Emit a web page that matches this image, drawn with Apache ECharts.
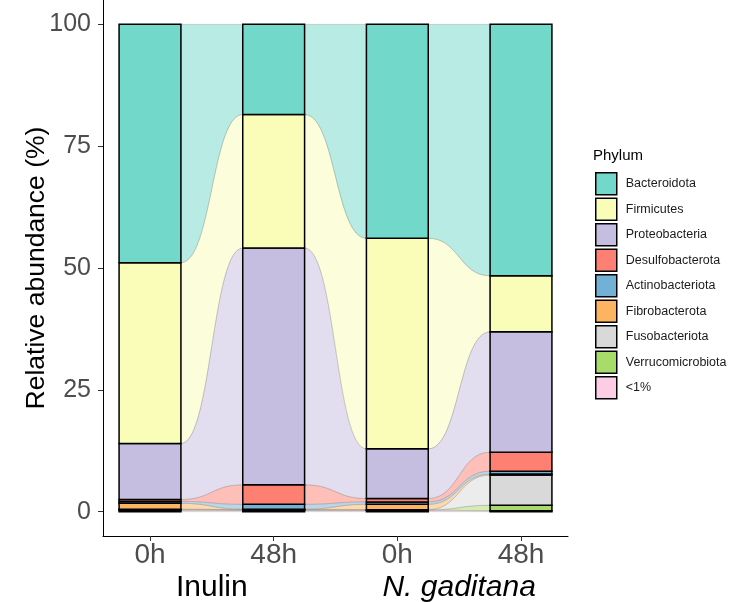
<!DOCTYPE html>
<html>
<head>
<meta charset="utf-8">
<script src="https://cdn.jsdelivr.net/npm/echarts@6/dist/echarts.min.js"></script>
<style>
html, body { margin: 0; padding: 0; background: #fff; }
#chart { width: 729px; height: 602px; }
</style>
</head>
<body>
<div id="chart"></div>
<script>
// legend order (top of the stack first)
const phyla = ['Bacteroidota', 'Firmicutes', 'Proteobacteria', 'Desulfobacterota',
    'Actinobacteriota', 'Fibrobacterota', 'Fusobacteriota', 'Verrucomicrobiota', '<1%'];
const sampleLabels = ['0h', '48h', '0h', '48h'];
const samplePositions = [0, 1, 2, 3];
const groupLabels = ['Inulin', 'N. gaditana'];
const groupItalic = [false, true];
const groupPositions = [0.5, 2.5];
const yTicks = [0, 25, 50, 75, 100];

// relative abundance (%) per sample: Inulin 0h, Inulin 48h, N. gaditana 0h, N. gaditana 48h
const bacteroidota = [48.9, 18.5, 43.9, 51.6];
const firmicutes = [37.1, 27.4, 43.2, 11.5];
const proteobacteria = [11.5, 48.6, 10.2, 24.7];
const desulfobacterota = [0.4, 4.0, 0.7, 3.9];
const actinobacteriota = [0.4, 1.0, 0.5, 0.6];
const fibrobacterota = [1.2, 0.1, 1.1, 0.2];
const fusobacteriota = [0.1, 0.05, 0.05, 6.2];
const verrucomicrobiota = [0.1, 0.05, 0.05, 1.1];
const lessThan1 = [0.3, 0.3, 0.3, 0.2];

const valuesByName = {
    'Bacteroidota': bacteroidota,
    'Firmicutes': firmicutes,
    'Proteobacteria': proteobacteria,
    'Desulfobacterota': desulfobacterota,
    'Actinobacteriota': actinobacteriota,
    'Fibrobacterota': fibrobacterota,
    'Fusobacteriota': fusobacteriota,
    'Verrucomicrobiota': verrucomicrobiota,
    '<1%': lessThan1
};

const colors = {
    'Bacteroidota': '#72D8CA',
    'Firmicutes': '#FAFDB8',
    'Proteobacteria': '#C5BEE0',
    'Desulfobacterota': '#FD8072',
    'Actinobacteriota': '#72B0D5',
    'Fibrobacterota': '#FDB462',
    'Fusobacteriota': '#D9D9D9',
    'Verrucomicrobiota': '#A8DC6A',
    '<1%': '#FCCDE5'
};

const halfBar = 0.25; // half bar width in x units
const fontFamily = '"Liberation Sans", Arial, sans-serif';

// cumulative bounds, bottom of the stack first
const stackOrder = phyla.slice().reverse();
const lower = {};
const upper = {};
let running = samplePositions.map(() => 0);
stackOrder.forEach(name => {
    lower[name] = running.slice();
    running = running.map((r, i) => r + valuesByName[name][i]);
    upper[name] = running.slice();
});

// stacked bars, drawn from the cumulative bounds
const barSeries = stackOrder.map(name => ({
    type: 'custom',
    name: name,
    z: 3,
    encode: { x: 0, y: 1 },
    data: samplePositions.map((x, i) => [x, upper[name][i], i]),
    itemStyle: { color: colors[name], borderColor: '#000', borderWidth: 1.5 },
    renderItem: (params, api) => {
        const i = api.value(2);
        const x = samplePositions[i];
        const p0 = api.coord([x - halfBar, upper[name][i]]);
        const p1 = api.coord([x + halfBar, lower[name][i]]);
        return {
            type: 'rect',
            shape: { x: p0[0], y: p0[1], width: p1[0] - p0[0], height: p1[1] - p0[1] },
            style: { fill: colors[name], stroke: '#000', lineWidth: 1.5 }
        };
    }
}));

// alluvial ribbons between neighbouring bars
const flowSeries = stackOrder.map(name => ({
    type: 'custom',
    name: name,
    z: 1,
    silent: true,
    encode: { x: 0, y: 1 },
    data: samplePositions.slice(0, -1).map(g => [g, upper[name][g]]),
    renderItem: (params, api) => {
        const g = api.value(0);
        const a = samplePositions[g] + halfBar;
        const b = samplePositions[g + 1] - halfBar;
        const t0 = api.coord([a, upper[name][g]]);
        const b0 = api.coord([a, lower[name][g]]);
        const t1 = api.coord([b, upper[name][g + 1]]);
        const b1 = api.coord([b, lower[name][g + 1]]);
        const xm = (t0[0] + t1[0]) / 2;
        const d = 'M' + t0[0] + ' ' + t0[1] +
            ' C' + xm + ' ' + t0[1] + ' ' + xm + ' ' + t1[1] + ' ' + t1[0] + ' ' + t1[1] +
            ' L' + b1[0] + ' ' + b1[1] +
            ' C' + xm + ' ' + b1[1] + ' ' + xm + ' ' + b0[1] + ' ' + b0[0] + ' ' + b0[1] + ' Z';
        return {
            type: 'path',
            shape: { pathData: d },
            style: {
                fill: colors[name],
                fillOpacity: 0.5,
                stroke: 'rgba(130,130,130,0.35)',
                lineWidth: 0.8
            }
        };
    }
}));

const chart = echarts.init(document.getElementById('chart'));
chart.setOption({
    animation: false,
    backgroundColor: '#fff',
    textStyle: { fontFamily: fontFamily },
    title: {
        text: 'Phylum',
        left: 588,
        top: 143,
        textStyle: { fontSize: 15, fontWeight: 'normal', color: '#000', fontFamily: fontFamily }
    },
    legend: {
        orient: 'vertical',
        left: 595,
        top: 172,
        padding: 0,
        itemWidth: 21,
        itemHeight: 22,
        itemGap: 2,
        icon: 'rect',
        selectedMode: false,
        data: phyla,
        itemStyle: { borderColor: '#000', borderWidth: 1.5 },
        textStyle: { fontSize: 12.5, color: '#1a1a1a', padding: [0, 0, 0, 4], fontFamily: fontFamily }
    },
    grid: { left: 103, right: 161, top: 0, bottom: 66, outerBoundsMode: 'none' },
    xAxis: [{
        type: 'value',
        min: -0.38,
        max: 3.38,
        position: 'bottom',
        splitLine: { show: false },
        axisLine: { onZero: false, lineStyle: { color: '#000', width: 1 } },
        axisTick: { customValues: samplePositions, length: 5, lineStyle: { color: '#333' } },
        axisLabel: {
            customValues: samplePositions,
            formatter: v => sampleLabels[samplePositions.indexOf(v)],
            fontSize: 28,
            color: '#4d4d4d',
            margin: 5
        }
    }, {
        type: 'value',
        min: -0.38,
        max: 3.38,
        position: 'bottom',
        splitLine: { show: false },
        axisLine: { show: false },
        axisTick: { show: false },
        axisLabel: {
            customValues: groupPositions,
            formatter: v => {
                const i = groupPositions.indexOf(v);
                return (groupItalic[i] ? '{it|' : '{n|') + groupLabels[i] + '}';
            },
            margin: 37,
            rich: {
                n: { fontSize: 30, color: '#000', fontFamily: fontFamily },
                it: { fontSize: 30, color: '#000', fontStyle: 'italic', fontFamily: fontFamily }
            }
        }
    }],
    yAxis: {
        type: 'value',
        min: -5,
        max: 105,
        name: 'Relative abundance (%)',
        nameLocation: 'middle',
        nameGap: 53,
        nameMoveOverlap: false,
        nameTextStyle: { fontSize: 26.5, color: '#000' },
        splitLine: { show: false },
        axisLine: { onZero: false, lineStyle: { color: '#000', width: 1 } },
        axisTick: { customValues: yTicks, length: 5, lineStyle: { color: '#333' } },
        axisLabel: { customValues: yTicks, fontSize: 25, color: '#4d4d4d', margin: 12 }
    },
    series: barSeries.concat(flowSeries)
});
</script>
</body>
</html>
